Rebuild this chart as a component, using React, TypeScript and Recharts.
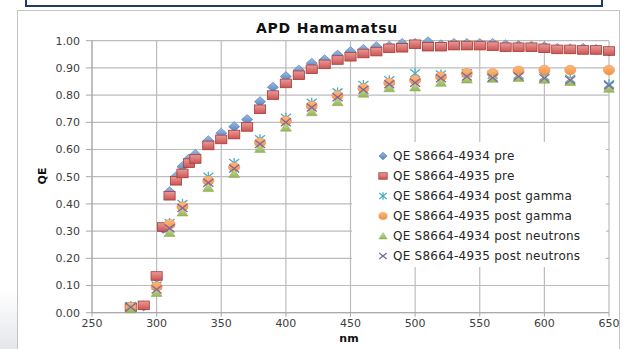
import React from 'react'
import { ScatterChart, Scatter, XAxis, YAxis, CartesianGrid } from 'recharts'

// wavelengths (nm)
const nmPre = [280, 290, 300, 305, 310, 315, 320, 325, 330, 340, 350, 360, 370, 380, 390, 400, 410, 420, 430, 440, 450, 460, 470, 480, 490, 500, 510, 520, 530, 540, 550, 560, 570, 580, 590, 600, 610, 620, 630, 640, 650]
const nmPost = [280, 300, 310, 320, 340, 360, 380, 400, 420, 440, 460, 480, 500, 520, 540, 560, 580, 600, 620, 650]

const qe4934Pre = [0.02, 0.025, 0.13, 0.31, 0.445, 0.5, 0.537, 0.565, 0.582, 0.632, 0.66, 0.684, 0.71, 0.776, 0.829, 0.868, 0.892, 0.917, 0.93, 0.947, 0.96, 0.968, 0.978, 0.98, 0.99, 0.99, 0.996, 0.985, 0.99, 0.99, 0.99, 0.99, 0.985, 0.982, 0.98, 0.978, 0.972, 0.97, 0.972, 0.968, 0.962]
const qe4935Pre = [0.02, 0.027, 0.135, 0.315, 0.43, 0.485, 0.512, 0.55, 0.565, 0.615, 0.637, 0.655, 0.683, 0.748, 0.8, 0.843, 0.873, 0.895, 0.913, 0.929, 0.941, 0.953, 0.96, 0.972, 0.974, 0.987, 0.978, 0.978, 0.982, 0.982, 0.982, 0.98, 0.976, 0.976, 0.976, 0.972, 0.968, 0.968, 0.966, 0.966, 0.962]
const qe4934Gamma = [0.025, 0.1, 0.33, 0.4, 0.5, 0.55, 0.638, 0.717, 0.772, 0.81, 0.837, 0.855, 0.88, 0.876, 0.88, 0.875, 0.875, 0.868, 0.86, 0.84]
const qe4935Gamma = [0.02, 0.096, 0.325, 0.39, 0.485, 0.535, 0.625, 0.705, 0.76, 0.798, 0.825, 0.845, 0.855, 0.868, 0.88, 0.88, 0.889, 0.892, 0.892, 0.892]
const qe4934Neutrons = [0.015, 0.074, 0.295, 0.37, 0.46, 0.512, 0.604, 0.682, 0.739, 0.776, 0.807, 0.827, 0.83, 0.847, 0.859, 0.862, 0.865, 0.858, 0.85, 0.825]
const qe4935Neutrons = [0.02, 0.085, 0.31, 0.385, 0.478, 0.53, 0.62, 0.7, 0.754, 0.792, 0.82, 0.84, 0.845, 0.862, 0.868, 0.864, 0.868, 0.862, 0.855, 0.835]

const xTicks = [250, 300, 350, 400, 450, 500, 550, 600, 650]
const yTicks = [0, 0.1, 0.2, 0.3, 0.4, 0.5, 0.6, 0.7, 0.8, 0.9, 1.0]

const toPoints = (xs: number[], ys: number[]) => xs.map((x, i) => ({ x, y: ys[i] }))

const Diamond = ({ cx, cy, s = 1 }: any) => (
  <path d={`M${cx},${cy - 5 * s} L${cx + 5.5 * s},${cy} L${cx},${cy + 5 * s} L${cx - 5.5 * s},${cy} Z`} fill="url(#gBlue)" stroke="#4a78b0" strokeWidth={0.6} />
)
const Square = ({ cx, cy, s = 1 }: any) => (
  <rect x={cx - 5.6 * s} y={cy - 4.3 * s} width={11.2 * s} height={8.6 * s} fill="url(#gRed)" stroke="#a33c39" strokeWidth={0.8} />
)
const Star = ({ cx, cy, s = 1 }: any) => (
  <g stroke="#4bacc6" strokeWidth={1.3}>
    <line x1={cx - 5 * s} y1={cy - 4 * s} x2={cx + 5 * s} y2={cy + 4 * s} />
    <line x1={cx - 5 * s} y1={cy + 4 * s} x2={cx + 5 * s} y2={cy - 4 * s} />
    <line x1={cx} y1={cy - 5 * s} x2={cx} y2={cy + 5 * s} />
  </g>
)
const Circle = ({ cx, cy, s = 1 }: any) => (
  <ellipse cx={cx} cy={cy} rx={5.6 * s} ry={4.8 * s} fill="url(#gOrange)" stroke="#e8853a" strokeWidth={0.5} />
)
const Triangle = ({ cx, cy, s = 1 }: any) => (
  <path d={`M${cx},${cy - 4.5 * s} L${cx + 5.5 * s},${cy + 4 * s} L${cx - 5.5 * s},${cy + 4 * s} Z`} fill="url(#gGreen)" stroke="#8aa84c" strokeWidth={0.5} />
)
const Cross = ({ cx, cy, s = 1 }: any) => (
  <g stroke="#8064a2" strokeWidth={1.3}>
    <line x1={cx - 5 * s} y1={cy - 4 * s} x2={cx + 5 * s} y2={cy + 4 * s} />
    <line x1={cx - 5 * s} y1={cy + 4 * s} x2={cx + 5 * s} y2={cy - 4 * s} />
  </g>
)

const series = [
  { name: 'QE S8664-4934 pre', data: toPoints(nmPre, qe4934Pre), Shape: Diamond },
  { name: 'QE S8664-4935 pre', data: toPoints(nmPre, qe4935Pre), Shape: Square },
  { name: 'QE S8664-4934 post gamma', data: toPoints(nmPost, qe4934Gamma), Shape: Star },
  { name: 'QE S8664-4935 post gamma', data: toPoints(nmPost, qe4935Gamma), Shape: Circle },
  { name: 'QE S8664-4934 post neutrons', data: toPoints(nmPost, qe4934Neutrons), Shape: Triangle },
  { name: 'QE S8664-4935 post neutrons', data: toPoints(nmPost, qe4935Neutrons), Shape: Cross },
]

const font = '"DejaVu Sans", Verdana, sans-serif'

export default function App() {
  return (
    <div style={{ position: 'absolute', left: 0, top: 0, width: 624, height: 349, background: '#fff', overflow: 'hidden', fontFamily: font }}>
      {/* slide box above the chart */}
      <div style={{ position: 'absolute', left: 25, top: -10, width: 574, height: 13, border: '2px solid #1f3a66' }} />
      <div style={{ position: 'absolute', left: 0, top: 290, width: 17, height: 59, background: 'linear-gradient(#fff, #e4e6ea)' }} />
      <div style={{ position: 'absolute', left: 17, top: 10, width: 601, height: 345, border: '1px solid #c4c4c4' }} />

      <ScatterChart width={624} height={349} margin={{ top: 40.7, right: 15, bottom: 16.3, left: 42 }} style={{ position: 'absolute', left: 0, top: 0 }}>
        <defs>
          <linearGradient id="gBlue" x1="0" y1="0" x2="0" y2="1">
            <stop offset="0" stopColor="#9dbbe3" />
            <stop offset="1" stopColor="#4f81bd" />
          </linearGradient>
          <linearGradient id="gRed" x1="0" y1="0" x2="0" y2="1">
            <stop offset="0" stopColor="#eb9a98" />
            <stop offset="1" stopColor="#cc5552" />
          </linearGradient>
          <linearGradient id="gOrange" x1="0" y1="0" x2="0" y2="1">
            <stop offset="0" stopColor="#fbba82" />
            <stop offset="1" stopColor="#f59140" />
          </linearGradient>
          <linearGradient id="gGreen" x1="0" y1="0" x2="0" y2="1">
            <stop offset="0" stopColor="#c8dca0" />
            <stop offset="1" stopColor="#94b652" />
          </linearGradient>
        </defs>
        <CartesianGrid stroke="#bcbcbc" strokeWidth={1.2} />
        <XAxis
          type="number"
          dataKey="x"
          domain={[250, 650]}
          ticks={xTicks}
          interval={0}
          height={20}
          tickSize={4}
          tickMargin={2}
          stroke="#a8a8a8"
          tick={{ fill: '#404040', fontSize: 11, fontFamily: font }}
        />
        <YAxis
          type="number"
          dataKey="y"
          domain={[0, 1]}
          ticks={yTicks}
          interval={0}
          width={50}
          tickSize={6}
          tickMargin={6}
          stroke="#a8a8a8"
          tickFormatter={(v: number) => v.toFixed(2)}
          tick={{ fill: '#404040', fontSize: 11, fontFamily: font }}
        />
        {series.map((s) => (
          <Scatter
            key={s.name}
            name={s.name}
            data={s.data}
            isAnimationActive={false}
            shape={(p: any) => <s.Shape cx={p.cx} cy={p.cy} />}
          />
        ))}
      </ScatterChart>

      <div style={{ position: 'absolute', left: 0, width: 654, top: 20, textAlign: 'center', fontWeight: 'bold', fontSize: 14, letterSpacing: 0.8, color: '#111' }}>
        APD Hamamatsu
      </div>
      <div style={{ position: 'absolute', left: 42, top: 176, transform: 'translate(-50%, -50%) rotate(-90deg)', fontWeight: 'bold', fontSize: 11, color: '#111' }}>
        QE
      </div>
      <div style={{ position: 'absolute', left: 330, width: 38, top: 332, textAlign: 'center', fontWeight: 'bold', fontSize: 11, color: '#111' }}>
        nm
      </div>

      <div style={{ position: 'absolute', left: 352, top: 142, width: 254, height: 125, background: '#fff' }}>
        {series.map((s, i) => (
          <div key={s.name} style={{ position: 'absolute', left: 0, top: 6 + i * 20, height: 16, display: 'flex', alignItems: 'center' }}>
            <svg width={40} height={16} style={{ flex: 'none' }}>
              <s.Shape cx={31} cy={8} s={0.75} />
            </svg>
            <span style={{ fontSize: 12, letterSpacing: 0.25, color: '#262626', whiteSpace: 'nowrap', marginLeft: 1 }}>{s.name}</span>
          </div>
        ))}
      </div>
    </div>
  )
}
